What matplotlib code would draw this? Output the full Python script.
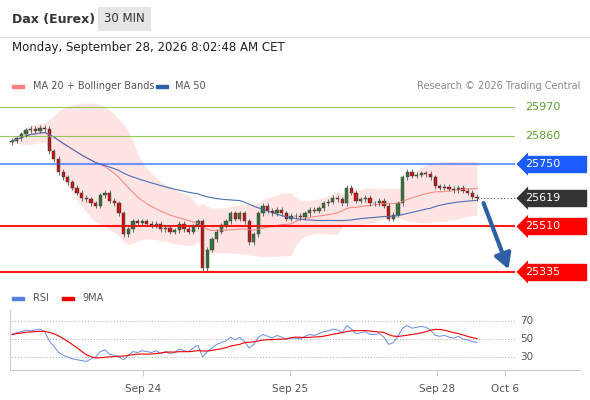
import numpy as np, pandas as pd
import matplotlib
matplotlib.use("Agg")
import matplotlib.pyplot as plt
from matplotlib.patches import Rectangle

closes = [25840, 25850, 25865, 25880, 25885, 25878, 25890, 25885, 25800, 25770,
          25720, 25700, 25680, 25660, 25640, 25620, 25615, 25600, 25590, 25630,
          25640, 25610, 25600, 25560, 25480, 25500, 25530, 25525, 25530, 25520,
          25515, 25520, 25500, 25505, 25490, 25495, 25520, 25500, 25490, 25510,
          25530, 25350, 25420, 25460, 25490, 25515, 25530, 25560, 25540, 25560,
          25530, 25450, 25480, 25560, 25590, 25570, 25560, 25575, 25560, 25540,
          25550, 25550, 25545, 25560, 25575, 25570, 25580, 25600, 25605, 25620,
          25615, 25600, 25660, 25640, 25610, 25615, 25620, 25600, 25600, 25610,
          25590, 25540, 25555, 25600, 25700, 25720, 25705, 25710, 25715, 25712,
          25700, 25665, 25660, 25662, 25655, 25650, 25660, 25648, 25640, 25625, 25619]
rsi_vals = [55, 57, 58, 60, 59, 60, 61, 58, 48, 42,
            35, 32, 30, 28, 27, 26, 25, 28, 30, 36,
            38, 33, 32, 30, 27, 32, 36, 35, 37, 36,
            35, 37, 34, 36, 34, 35, 39, 37, 36, 40,
            43, 30, 36, 40, 44, 46, 48, 52, 49, 52,
            47, 40, 44, 52, 55, 53, 51, 54, 52, 50,
            51, 51, 50, 53, 55, 54, 56, 58, 59, 61,
            60, 57, 65, 61, 56, 57, 58, 55, 55, 56,
            52, 44, 46, 53, 62, 65, 62, 63, 64, 63,
            60, 54, 53, 54, 52, 51, 53, 50, 49, 47, 46]
levels = [25970, 25860, 25750, 25619, 25510, 25335]
level_colors = ["#8bc34a", "#8bc34a", "#1a5cff", "#333333", "#ff0000", "#ff0000"]
tick_pos = [28.2, 59.8, 91.4, 106]
tick_labels = ["Sep 24", "Sep 25", "Sep 28", "Oct 6"]

c = pd.Series(closes, dtype=float)
o = c.shift(1).fillna(c.iloc[0] - 5)
ma20 = c.rolling(20, min_periods=1).mean()
sd = c.rolling(20, min_periods=2).std().bfill()
ma50 = c.rolling(50, min_periods=1).mean()
rsi = pd.Series(rsi_vals, dtype=float)
rsi9 = rsi.rolling(9, min_periods=1).mean()

W, H = 590, 400
fig = plt.figure(figsize=(5.9, 4.0), dpi=100)
def fx(x): return x / W
def fy(y): return 1 - y / H

fig.text(fx(12), fy(19), "Dax (Eurex)", fontsize=9, fontweight="bold", color="#333", va="center")
fig.text(fx(104), fy(19), "30 MIN", fontsize=8.5, color="#333", va="center",
         bbox=dict(boxstyle="square,pad=0.5", fc="#e6e6e6", ec="none"))
fig.add_artist(plt.Line2D([0, 1], [fy(37), fy(37)], color="#ddd", lw=1))
fig.text(fx(12), fy(48), "Monday, September 28, 2026 8:02:48 AM CET", fontsize=8.5, color="#222", va="center")
fig.add_artist(Rectangle((fx(12), fy(88)), fx(12), 3/H, color="#ff7f7f", transform=fig.transFigure))
fig.text(fx(33), fy(86), "MA 20 + Bollinger Bands", fontsize=7, color="#555", va="center")
fig.add_artist(Rectangle((fx(156), fy(88)), fx(12), 3/H, color="#2d5ea8", transform=fig.transFigure))
fig.text(fx(175), fy(86), "MA 50", fontsize=7, color="#555", va="center")
fig.text(fx(580), fy(86), "Research © 2026 Trading Central", fontsize=7, color="#888", va="center", ha="right")

xl = (-12/4.65, (515-12)/4.65)
ax = fig.add_axes([fx(0), fy(282), fx(515), (282-95)/H])
ax.set_xlim(*xl)
ax.set_ylim(25970 - (282-107)*3.85, 25970 + 12*3.85)
ax.axis("off")
x = np.arange(len(c))
ax.fill_between(x, ma20 - 2*sd, ma20 + 2*sd, color="#ffdede", alpha=0.8, lw=0)
ax.plot(x, ma20, color="#ff8a8a", lw=0.8)
ax.plot(x, ma50, color="#4a6fb5", lw=0.8)
for lv, col in zip(levels, level_colors):
    if lv == 25619:
        ax.plot([x[-1], xl[1]], [lv, lv], color="#555", lw=0.8, ls=(0, (1, 2)))
    else:
        lw = 0.8 if col == "#8bc34a" else 1.5
        ax.axhline(lv, color=col, lw=lw, alpha=0.6 if col == "#1a5cff" else 0.9)
for i in x:
    oo, cc = o[i], c[i]
    col = "#2e7d32" if cc >= oo else "#e00000"
    ax.vlines(i, min(oo, cc) - 10, max(oo, cc) + 10, color="#555", lw=0.6)
    ax.add_patch(Rectangle((i - 0.35, min(oo, cc)), 0.7, max(abs(cc - oo), 2), fc=col, ec="#333", lw=0.3))
ax.annotate("", xy=(107, 25335), xytext=(101.2, 25610),
            arrowprops=dict(arrowstyle="-|>,head_width=0.5,head_length=0.9", color="#2e5fa3", lw=3))

for lv, col in zip(levels, level_colors):
    y = 107 + (25970 - lv) / 3.85
    if col == "#8bc34a":
        fig.text(fx(525), fy(y), str(lv), fontsize=8, color="#5aa02c", va="center")
    else:
        fig.text(fx(525), fy(y), str(lv), fontsize=8, color="white", va="center",
                 bbox=dict(boxstyle="larrow,pad=0.25", fc=col, ec="none"))
        fig.add_artist(Rectangle((fx(528), fy(y + 8)), fx(58), 16/H, color=col, transform=fig.transFigure, zorder=-1))

fig.add_artist(Rectangle((fx(12), fy(300)), fx(12), 3/H, color="#5b7fe0", transform=fig.transFigure))
fig.text(fx(33), fy(298), "RSI", fontsize=7, color="#555", va="center")
fig.add_artist(Rectangle((fx(62), fy(300)), fx(12), 3/H, color="#ee0000", transform=fig.transFigure))
fig.text(fx(82), fy(298), "9MA", fontsize=7, color="#555", va="center")

ax2 = fig.add_axes([fx(10), fy(370), fx(570), 60/H])
ax2.set_xlim(-2/4.65, (580-12)/4.65)
ax2.set_ylim(30 - 13/0.9, 70 + 11/0.9)
for v in (70, 50, 30):
    ax2.plot([xl[0], (515-12)/4.65], [v, v], color="#aaa", lw=0.7, ls=(0, (1, 2)))
    ax2.text((520-12)/4.65, v, str(v), fontsize=7.5, color="#555", va="center")
ax2.plot(x, rsi, color="#6a8ae8", lw=0.7)
ax2.plot(x, rsi9, color="#ee0000", lw=0.8)
for s in ("top", "right"):
    ax2.spines[s].set_visible(False)
for s in ("left", "bottom"):
    ax2.spines[s].set_color("#ccc")
ax2.set_yticks([])
ax2.set_xticks(tick_pos)
ax2.set_xticklabels(tick_labels, fontsize=7.5, color="#555")
ax2.tick_params(axis="x", length=4, color="#ccc", pad=6)

fig.savefig("out.png", dpi=100, facecolor="white")
